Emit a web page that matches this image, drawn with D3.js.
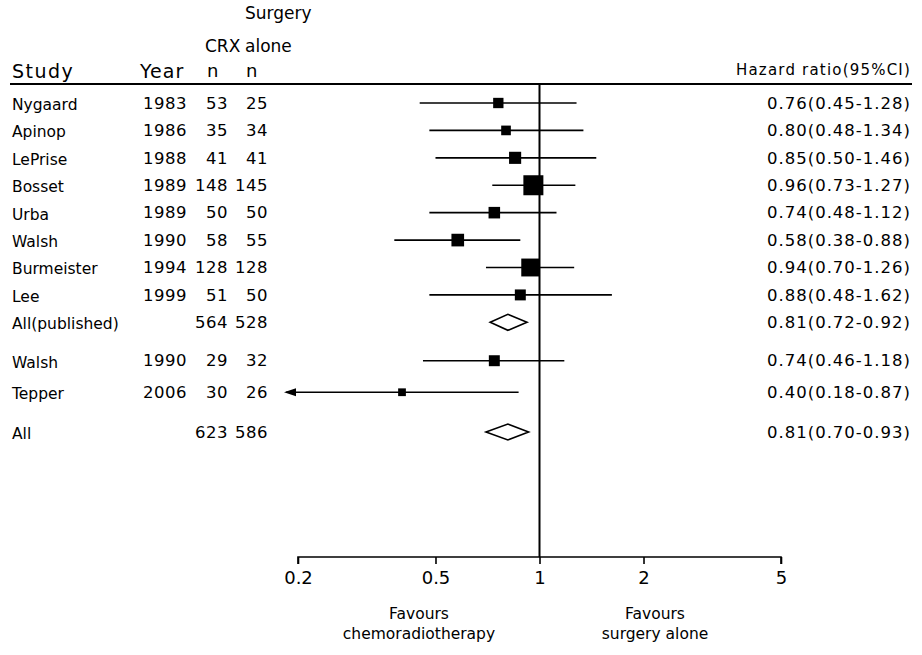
<!DOCTYPE html>
<html>
  <head>
    <meta charset="utf-8">
    <script src="https://d3js.org/d3.v7.min.js"></script>
    <style>
      body { margin: 0; background: #fff; }
      svg text { font-family: "DejaVu Sans", sans-serif; fill: #000; }
      .axis path, .axis line { stroke: #000; stroke-width: 1.6px; }
      .axis text { font-family: "DejaVu Sans", sans-serif; font-size: 18px; }
    </style>
  </head>
  <body>
    <div id="chart"></div>
    <script>
      // study rows (null year = pooled row)
      var studies = ["Nygaard", "Apinop", "LePrise", "Bosset", "Urba", "Walsh", "Burmeister", "Lee", "All(published)", "Walsh", "Tepper", "All"];
      var years = [1983, 1986, 1988, 1989, 1989, 1990, 1994, 1999, null, 1990, 2006, null];
      var crxN = [53, 35, 41, 148, 50, 58, 128, 51, 564, 29, 30, 623];
      var surgN = [25, 34, 41, 145, 50, 55, 128, 50, 528, 32, 26, 586];
      var hr = [0.76, 0.80, 0.85, 0.96, 0.74, 0.58, 0.94, 0.88, 0.81, 0.74, 0.40, 0.81];
      var lower = [0.45, 0.48, 0.50, 0.73, 0.48, 0.38, 0.70, 0.48, 0.72, 0.46, 0.18, 0.70];
      var upper = [1.28, 1.34, 1.46, 1.27, 1.12, 0.88, 1.26, 1.62, 0.92, 1.18, 0.87, 0.93];
      var isPooled = [false, false, false, false, false, false, false, false, true, false, false, true];
      // approximate study weights, read from square sizes
      var weights = [8, 7, 11, 30, 10, 12, 24, 9, 0, 9, 4.5, 0];
      // row slot (gaps between groups)
      var slots = [0, 1, 2, 3, 4, 5, 6, 7, 8, 9.4, 10.55, 12];
      var ticks = [0.2, 0.5, 1, 2, 5];

      var width = 922, height = 655;
      var svg = d3.select("#chart").append("svg")
        .attr("width", width)
        .attr("height", height);

      var x = d3.scaleLog().domain([0.2, 5]).range([298, 781]);
      var y = d3.scaleLinear().domain([0, 12]).range([103, 432]);
      var sz = d3.scaleSqrt().domain([0, 30]).range([0, 20]);

      // column headers
      var head = svg.append("g").style("font-size", "18px");
      head.append("text").attr("x", 12).attr("y", 78).style("font-size", "19px")
        .style("letter-spacing", "1.5px").text("Study");
      head.append("text").attr("x", 140).attr("y", 78).style("font-size", "19px")
        .style("letter-spacing", "1px").text("Year");
      head.append("text").attr("x", 205).attr("y", 52).style("font-size", "17px").text("CRX");
      head.append("text").attr("x", 207).attr("y", 77).text("n");
      head.append("text").attr("x", 245).attr("y", 19).style("font-size", "17px").text("Surgery");
      head.append("text").attr("x", 245).attr("y", 52).style("font-size", "17px").text("alone");
      head.append("text").attr("x", 246).attr("y", 77).text("n");
      svg.append("text").attr("x", 911).attr("y", 75)
        .attr("text-anchor", "end").style("font-size", "15px").style("letter-spacing", "1.2px")
        .text("Hazard ratio(95%CI)");

      svg.append("line")
        .attr("x1", 10).attr("x2", 912)
        .attr("y1", 84).attr("y2", 84)
        .attr("stroke", "#000").attr("stroke-width", 1.8);

      // null line
      svg.append("line")
        .attr("x1", x(1)).attr("x2", x(1))
        .attr("y1", 84).attr("y2", 557)
        .attr("stroke", "#000").attr("stroke-width", 2);

      var rows = svg.append("g").selectAll("g")
        .data(studies.map(function(s, i) { return i; }))
        .join("g")
        .attr("transform", function(i) { return "translate(0," + y(slots[i]) + ")"; });

      rows.append("text").attr("x", 12).attr("dy", "0.45em")
        .style("font-size", "15.5px")
        .text(function(i) { return studies[i]; });
      rows.append("text").attr("x", 187).attr("dy", "0.35em")
        .attr("text-anchor", "end").style("font-size", "16.5px").style("letter-spacing", "0.5px")
        .text(function(i) { return years[i] == null ? "" : years[i]; });
      rows.append("text").attr("x", 228).attr("dy", "0.35em")
        .attr("text-anchor", "end").style("font-size", "16.5px").style("letter-spacing", "0.5px")
        .text(function(i) { return crxN[i]; });
      rows.append("text").attr("x", 268).attr("dy", "0.35em")
        .attr("text-anchor", "end").style("font-size", "16.5px").style("letter-spacing", "0.5px")
        .text(function(i) { return surgN[i]; });
      rows.append("text").attr("x", 911).attr("dy", "0.35em")
        .attr("text-anchor", "end").style("font-size", "16.5px").style("letter-spacing", "1px")
        .text(function(i) {
          return hr[i].toFixed(2) + "(" + lower[i].toFixed(2) + "-" + upper[i].toFixed(2) + ")";
        });

      // confidence intervals
      var studyRows = rows.filter(function(i) { return !isPooled[i]; });
      studyRows.append("line")
        .attr("x1", function(i) { return lower[i] < 0.2 ? x(0.2) - 12 : x(lower[i]); })
        .attr("x2", function(i) { return x(upper[i]); })
        .attr("stroke", "#000").attr("stroke-width", 1.6);
      studyRows.append("rect")
        .attr("x", function(i) { return x(hr[i]) - sz(weights[i]) / 2; })
        .attr("y", function(i) { return -sz(weights[i]) / 2; })
        .attr("width", function(i) { return sz(weights[i]); })
        .attr("height", function(i) { return sz(weights[i]); })
        .attr("fill", "#000");
      // arrow for CI truncated at the axis minimum
      studyRows.filter(function(i) { return lower[i] < 0.2; })
        .append("path")
        .attr("d", function() {
          var ax = x(0.2) - 14;
          return "M" + ax + ",0L" + (ax + 12) + ",-4L" + (ax + 12) + ",4Z";
        })
        .attr("fill", "#000");

      // pooled diamonds
      rows.filter(function(i) { return isPooled[i]; })
        .append("path")
        .attr("d", function(i) {
          return "M" + x(lower[i]) + ",0L" + x(hr[i]) + ",-8L" + x(upper[i]) + ",0L" + x(hr[i]) + ",8Z";
        })
        .attr("fill", "#fff").attr("stroke", "#000").attr("stroke-width", 1.6);

      // x axis
      svg.append("g")
        .attr("class", "axis")
        .attr("transform", "translate(0,557)")
        .call(d3.axisBottom(x).tickValues(ticks).tickSize(7).tickPadding(7)
          .tickFormat(function(d) { return String(d); }))
        .call(function(g) { g.select(".domain").attr("d", "M" + x(0.2) + ",7V0H" + x(5) + "V7"); });

      var lab = svg.append("g").style("font-size", "15.5px").attr("text-anchor", "middle");
      lab.append("text").attr("x", 419).attr("y", 619).text("Favours");
      lab.append("text").attr("x", 419).attr("y", 639).text("chemoradiotherapy");
      lab.append("text").attr("x", 655).attr("y", 619).text("Favours");
      lab.append("text").attr("x", 655).attr("y", 639).text("surgery alone");
    </script>
  </body>
</html>
